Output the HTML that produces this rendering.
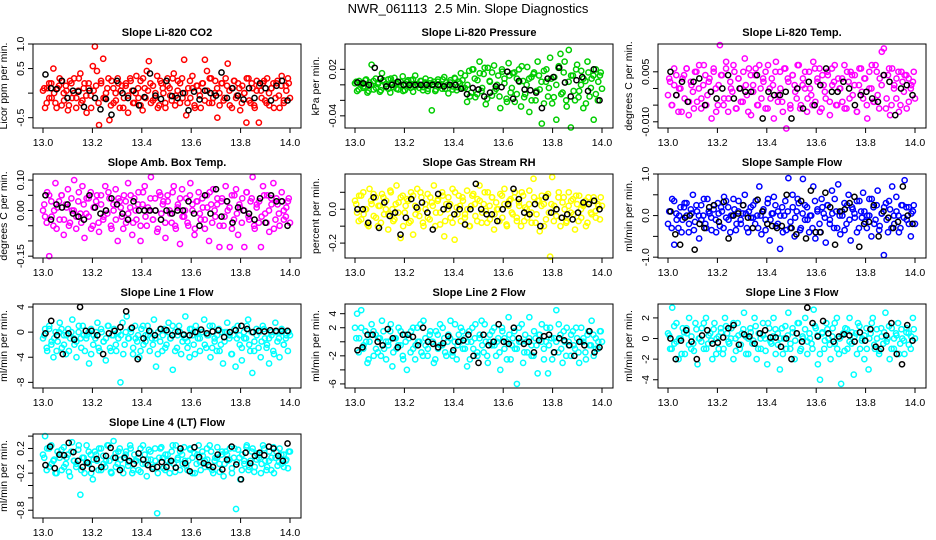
<!DOCTYPE html>
<html><head><meta charset="utf-8"><style>
html,body{margin:0;padding:0;background:#fff}
svg{display:block;font-family:"Liberation Sans",Arial,sans-serif}
</style></head><body>
<svg id="chart" width="936" height="540" viewBox="0 0 936 540" xmlns="http://www.w3.org/2000/svg">
<rect width="936" height="540" fill="#fff"/>
<text x="468" y="13" font-size="13" text-anchor="middle">NWR_061113&#160; 2.5 Min. Slope Diagnostics</text>
</svg>
<script>
const xTicks=[13.0,13.2,13.4,13.6,13.8,14.0];
const co2=[0.05,-0.3,0.1,-0.1,0.2,0.5,-0.2,0.1,0.3,-0.25,0.0,0.15,-0.35,0.25,-0.1,0.3,-0.3,0.05,0.4,-0.15,0.2,-0.4,0.1,-0.05,0.55,0.95,0.45,-0.65,0.2,0.7,-0.1,0.1,-0.55,0.25,-0.2,0.0,0.3,-0.3,0.15,-0.1,0.2,-0.4,0.3,0.05,-0.2,0.35,-0.1,0.25,-0.35,0.1,0.45,0.65,-0.2,0.15,-0.1,0.35,-0.25,0.2,0.0,-0.3,0.3,0.1,-0.15,0.4,-0.05,0.25,-0.2,0.3,0.68,-0.45,0.1,-0.1,0.35,-0.25,0.15,0.05,-0.3,0.2,0.68,0.45,-0.2,0.3,-0.1,0.25,-0.5,0.0,0.2,-0.15,0.3,0.6,-0.25,0.1,0.25,-0.1,0.2,-0.35,0.15,0.0,-0.6,0.3,-0.2,0.1,-0.3,0.25,-0.6,0.05,0.2,-0.15,0.3,-0.25,0.1,0.2,-0.1,0.25,-0.3,0.35,-0.2,0.15,0.3,-0.1];
const co2Core=[0.1,-0.2,0.2,-0.1,0.0,-0.3,0.15,0.25,-0.15,0.05,-0.25,0.2,0.0,-0.1,0.3,-0.2,0.1,-0.05,0.2,-0.3,0.05,0.15,-0.2,0.25,-0.1,0.0,0.3,-0.25,0.1,-0.15,0.2,0.05,-0.3,0.15,-0.05,0.25,-0.2,0.0,0.1,-0.25,0.3,-0.1,0.05,0.2,-0.15,0.0,-0.3,0.25,0.1,-0.2,0.15,-0.05,0.3,-0.25,0.05,0.2,-0.1,0.0,-0.2,0.25,0.1,-0.3,0.15,-0.05,0.2,-0.15,0.05,0.3,-0.2,0.0,0.1,-0.25,0.2,-0.1,0.15,0.05,-0.3,0.25,-0.05,0.1,-0.2,0.0,0.3,-0.15,0.2,-0.25,0.05,0.15,-0.1,0.25,-0.2,0.0,0.1,-0.3,0.2,-0.05,0.15,-0.15,0.05,0.2];
const co2Black=[0.38,0.1,0.08,0.25,-0.1,0.05,0.03,-0.28,0.05,-0.1,-0.33,-0.12,-0.44,0.25,0.0,-0.1,0.05,-0.25,-0.08,0.4,-0.05,-0.12,0.25,-0.06,-0.1,0.0,-0.35,0.03,-0.13,0.05,0.0,-0.05,0.42,-0.1,0.1,-0.05,-0.13,0.1,-0.1,0.2,0.1,-0.15,0.15,0.25,-0.15];
const pres=[0.002,-0.008,0.005,0.0,-0.004,0.006,-0.01,0.003,0.026,-0.006,0.008,0.001,-0.009,0.015,0.004,-0.003,0.007,-0.01,0.002,0.009,-0.005,0.003,0.0,0.011,-0.007,0.004,-0.002,0.006,-0.009,0.012,0.001,-0.004,0.005,-0.003,0.008,-0.008,0.002,-0.033,0.004,-0.006,0.007,0.0,-0.005,0.01,0.003,-0.011,0.006,-0.002,0.009,-0.007,0.004,0.015,-0.004,0.012,-0.022,0.018,-0.01,0.02,-0.016,0.006,0.03,-0.008,0.014,-0.025,0.022,0.004,-0.014,0.025,-0.005,0.012,-0.03,0.017,0.002,-0.018,0.028,-0.01,0.015,-0.022,0.008,0.02,-0.028,0.005,-0.012,0.023,-0.035,0.01,0.014,-0.02,0.03,-0.006,-0.05,0.018,0.004,-0.015,0.035,-0.024,0.01,-0.045,0.022,0.04,-0.01,0.03,-0.028,0.045,-0.055,0.012,-0.02,0.026,-0.008,0.018,-0.03,0.005,0.03,-0.015,0.008,-0.045,0.02,-0.02,0.012,-0.005];
const presCore=[0.004,-0.006,0.002,-0.002,0.007,-0.008,0.0,0.005,-0.004,0.003,-0.007,0.006,0.001,-0.005,0.008,-0.003,0.002,-0.006,0.004,-0.008,0.001,0.006,-0.004,0.007,-0.002,0.0,0.005,-0.007,0.003,-0.005,0.006,0.001,-0.008,0.004,-0.001,0.007,-0.005,0.0,0.003,-0.006,0.008,-0.003,0.002,0.006,-0.004,0.0,-0.015,0.02,0.008,-0.012,0.015,-0.004,0.022,-0.018,0.005,0.016,-0.008,0.0,-0.015,0.02,0.008,-0.022,0.012,-0.004,0.016,-0.012,0.004,0.024,-0.016,0.0,0.008,-0.02,0.016,-0.008,0.012,0.004,-0.024,0.02,-0.004,0.008,-0.016,0.0,0.024,-0.012,0.016,-0.02,0.004,0.012,-0.008,0.02,-0.016,0.0,0.008,-0.024,0.016,-0.004,0.012,-0.012,0.004,0.016];
const presBlack=[0.003,0.002,0.0,0.022,0.008,-0.002,0.0,0.004,0.0,0.0,0.0,0.0,0.0,0.0,0.0,-0.002,0.0,0.0,-0.005,-0.012,-0.004,-0.006,-0.015,-0.01,-0.002,-0.003,0.017,-0.018,0.005,-0.006,-0.007,-0.01,-0.03,0.008,0.01,0.022,0.003,-0.015,0.006,0.01,-0.008,0.02,-0.02];
const temp=[-0.002,0.002,-0.005,0.001,0.004,-0.007,0.0,0.003,-0.003,0.006,-0.008,0.002,-0.001,0.005,-0.004,0.007,-0.006,0.001,0.004,-0.002,0.003,-0.009,0.006,0.0,-0.005,0.013,0.004,-0.003,0.008,-0.007,0.002,-0.001,0.005,-0.006,0.003,0.0,-0.004,0.009,-0.002,0.006,-0.008,0.001,0.004,-0.005,0.007,-0.003,0.002,0.005,-0.006,0.0,0.003,-0.009,0.008,-0.002,0.005,-0.004,0.006,-0.012,0.002,-0.006,0.004,0.001,-0.003,0.007,-0.005,0.003,0.0,-0.007,0.005,-0.002,0.008,-0.004,0.002,0.006,-0.006,0.001,-0.003,0.004,-0.008,0.006,0.002,-0.005,0.003,0.0,-0.004,0.007,-0.006,0.002,0.005,-0.002,0.004,-0.007,0.001,0.006,-0.003,0.003,-0.009,0.005,0.0,-0.004,0.007,-0.002,0.003,0.011,0.012,-0.006,0.004,-0.008,0.006,0.001,-0.003,0.005,-0.005,0.002,0.004,-0.006,0.003,0.0,0.002,-0.003];
const tempCore=[0.003,-0.005,0.006,-0.002,0.0,-0.007,0.004,0.006,-0.004,0.001,-0.006,0.005,0.0,-0.003,0.007,-0.005,0.002,-0.001,0.005,-0.007,0.001,0.004,-0.005,0.006,-0.003,0.0,0.007,-0.006,0.003,-0.004,0.005,0.001,-0.007,0.004,-0.001,0.006,-0.005,0.0,0.003,-0.006,0.007,-0.003,0.001,0.005,-0.004,0.0,-0.007,0.006,0.003,-0.005,0.004,-0.001,0.007,-0.006,0.001,0.005,-0.003,0.0,-0.005,0.006,0.003,-0.007,0.004,-0.001,0.005,-0.004,0.001,0.007,-0.005,0.0,0.003,-0.006,0.005,-0.003,0.004,0.001,-0.007,0.006,-0.001,0.003,-0.005,0.0,0.007,-0.004,0.005,-0.006,0.001,0.004,-0.003,0.006,-0.005,0.0,0.003,-0.007,0.005,-0.001,0.004,-0.004,0.001,0.005];
const tempBlack=[0.005,-0.002,0.002,-0.004,0.002,0.003,-0.005,-0.001,-0.003,0.0,0.004,-0.003,0.0,-0.001,-0.001,0.004,-0.009,-0.001,-0.002,-0.002,-0.001,-0.009,0.0,-0.006,0.002,-0.005,0.001,0.006,-0.001,-0.001,0.002,0.0,-0.005,-0.002,-0.001,-0.003,-0.004,0.004,0.002,-0.008,0.0,0.001,-0.002];
const amb=[0.0,-0.02,0.06,-0.15,0.03,-0.05,0.09,0.01,-0.03,0.05,-0.08,0.02,0.07,-0.04,0.0,0.1,-0.06,0.03,-0.01,0.08,-0.09,0.04,-0.02,0.06,-0.05,0.01,0.05,-0.07,0.02,-0.03,0.08,-0.01,0.04,-0.06,0.0,0.07,-0.1,0.03,-0.02,0.05,-0.04,0.09,0.01,-0.08,0.04,-0.03,0.06,-0.1,0.02,0.08,-0.05,0.0,0.11,-0.03,0.04,-0.07,0.06,-0.01,0.03,-0.09,0.05,0.0,-0.04,0.08,-0.06,0.02,-0.11,0.07,-0.02,0.04,-0.05,0.09,0.0,-0.08,0.03,0.06,-0.03,0.01,-0.06,0.05,-0.1,0.02,0.07,-0.02,0.04,-0.12,0.03,-0.05,0.08,0.0,-0.12,0.05,-0.03,0.07,-0.08,0.01,0.04,-0.12,0.06,-0.02,0.03,0.11,-0.06,0.02,-0.04,-0.12,0.08,-0.01,0.05,-0.07,0.04,0.09,-0.03,0.02,-0.05,0.06,0.0,-0.02,0.03,-0.04];
const ambCore=[0.02,-0.04,0.05,-0.02,0.0,-0.06,0.03,0.05,-0.03,0.01,-0.05,0.04,0.0,-0.02,0.06,-0.04,0.02,-0.01,0.04,-0.06,0.01,0.03,-0.04,0.05,-0.02,0.0,0.06,-0.05,0.02,-0.03,0.04,0.01,-0.06,0.03,-0.01,0.05,-0.04,0.0,0.02,-0.05,0.06,-0.02,0.01,0.04,-0.03,0.0,-0.06,0.05,0.02,-0.04,0.03,-0.01,0.06,-0.05,0.01,0.04,-0.02,0.0,-0.04,0.05,0.02,-0.06,0.03,-0.01,0.04,-0.03,0.01,0.06,-0.04,0.0,0.02,-0.05,0.04,-0.02,0.03,0.01,-0.06,0.05,-0.01,0.02,-0.04,0.0,0.06,-0.03,0.04,-0.05,0.01,0.03,-0.02,0.05,-0.04,0.0,0.02,-0.06,0.04,-0.01,0.03,-0.03,0.01,0.04];
const ambBlack=[0.05,-0.03,0.02,0.01,0.02,-0.01,-0.02,-0.03,0.05,0.01,-0.01,0.0,0.04,0.02,-0.01,-0.03,0.03,0.0,0.0,0.0,0.0,-0.03,0.0,-0.01,0.0,0.0,0.03,-0.01,-0.05,0.05,-0.01,0.07,-0.02,0.03,-0.04,0.01,0.0,-0.01,-0.03,0.04,-0.04,0.05,0.03,0.03,-0.05];
const rh=[0.05,-0.02,0.08,-0.06,0.1,0.0,-0.09,0.12,0.03,-0.04,0.07,-0.1,0.02,0.09,-0.03,0.05,-0.12,0.11,0.0,-0.06,0.14,0.04,-0.17,0.08,-0.02,0.06,-0.08,0.1,-0.15,0.02,0.12,-0.04,0.07,-0.1,0.0,0.09,-0.06,0.04,0.14,-0.02,0.06,-0.09,0.1,-0.16,0.03,0.07,-0.05,0.12,-0.18,0.01,0.08,-0.07,0.05,-0.03,0.11,-0.1,0.02,0.09,-0.04,0.06,0.14,-0.08,0.03,-0.01,0.1,-0.06,0.07,-0.12,0.04,0.0,0.09,-0.05,0.12,-0.09,0.02,0.06,-0.03,0.1,-0.07,0.04,-0.1,0.08,0.01,-0.05,0.11,-0.02,0.18,-0.08,0.05,-0.13,0.08,0.03,-0.06,0.09,-0.28,0.19,0.02,-0.04,0.07,-0.1,0.04,0.0,-0.07,0.1,-0.02,0.06,-0.12,0.03,0.08,-0.05,0.02,0.05,-0.08,0.04,-0.03,0.07,-0.01,0.03,-0.06,0.02];
const rhCore=[0.03,-0.07,0.08,-0.03,0.0,-0.1,0.05,0.09,-0.05,0.02,-0.08,0.07,0.0,-0.03,0.1,-0.07,0.03,-0.02,0.07,-0.1,0.02,0.05,-0.07,0.08,-0.03,0.0,0.1,-0.08,0.03,-0.05,0.07,0.02,-0.1,0.05,-0.02,0.08,-0.07,0.0,0.03,-0.08,0.1,-0.03,0.02,0.07,-0.05,0.0,-0.1,0.08,0.03,-0.07,0.05,-0.02,0.1,-0.08,0.02,0.07,-0.03,0.0,-0.07,0.08,0.03,-0.1,0.05,-0.02,0.07,-0.05,0.02,0.1,-0.07,0.0,0.03,-0.08,0.07,-0.03,0.05,0.02,-0.1,0.08,-0.02,0.03,-0.07,0.0,0.1,-0.05,0.07,-0.08,0.02,0.05,-0.03,0.08,-0.07,0.0,0.03,-0.1,0.07,-0.02,0.05,-0.05,0.02,0.07];
const rhBlack=[0.0,0.0,-0.08,0.07,-0.11,0.04,-0.04,-0.02,-0.15,-0.05,0.06,0.01,0.04,-0.02,-0.12,0.09,0.0,0.02,-0.03,0.0,-0.09,0.0,0.15,0.0,-0.03,-0.03,-0.07,0.0,0.03,0.12,0.06,-0.02,-0.03,0.03,-0.1,0.07,-0.02,0.0,-0.05,-0.03,-0.06,-0.02,0.04,0.03,0.05,0.0];
const sflow=[-0.2,0.1,0.4,-0.7,0.05,-0.3,0.2,-0.1,0.3,0.0,-0.4,0.15,0.5,-0.15,0.1,-0.55,0.25,0.0,-0.2,0.4,0.05,-0.35,0.15,-0.1,0.3,-0.25,0.1,0.45,-0.05,0.2,-0.4,0.0,0.15,-0.2,0.35,-0.1,0.05,0.5,-0.3,0.1,-0.05,0.25,-0.2,0.0,0.7,-0.45,0.15,-0.1,0.3,-0.6,0.05,0.45,-0.25,0.1,-0.8,0.2,0.0,-0.35,0.9,-0.15,0.5,-0.5,0.1,0.3,-0.3,0.88,-0.1,0.2,-0.4,0.0,0.7,-0.55,0.15,-0.2,0.4,0.05,-0.65,0.25,-0.1,0.6,-0.3,0.1,0.75,-0.45,0.0,0.3,-0.2,0.5,-0.6,0.15,-0.05,0.35,-0.3,0.1,0.55,-0.15,0.0,0.4,-0.5,0.2,-0.1,0.6,-0.25,0.05,-0.95,0.3,-0.4,0.15,0.7,-0.2,0.45,0.0,-0.3,0.25,0.85,-0.1,0.2,-0.5,0.1,-0.2];
const sflowCore=[0.1,-0.3,0.35,-0.1,0.0,-0.4,0.2,0.3,-0.2,0.05,-0.35,0.25,0.0,-0.1,0.4,-0.3,0.1,-0.05,0.25,-0.4,0.05,0.2,-0.3,0.35,-0.1,0.0,0.4,-0.35,0.1,-0.2,0.25,0.05,-0.4,0.2,-0.05,0.35,-0.3,0.0,0.1,-0.35,0.4,-0.1,0.05,0.25,-0.2,0.0,-0.4,0.35,0.1,-0.3,0.2,-0.05,0.4,-0.35,0.05,0.25,-0.1,0.0,-0.3,0.35,0.1,-0.4,0.2,-0.05,0.25,-0.2,0.05,0.4,-0.3,0.0,0.1,-0.35,0.25,-0.1,0.2,0.05,-0.4,0.35,-0.05,0.1,-0.3,0.0,0.4,-0.2,0.25,-0.35,0.05,0.2,-0.1,0.35,-0.3,0.0,0.1,-0.4,0.25,-0.05,0.2,-0.2,0.05,0.25];
const sflowBlack=[0.1,-0.45,-0.7,-0.05,0.0,-0.82,-0.2,-0.3,0.2,0.25,-0.15,0.33,-0.55,0.0,0.05,0.25,-0.05,-0.3,0.38,0.1,-0.2,-0.25,-0.3,-0.25,0.5,-0.3,-0.45,0.35,-0.55,0.6,-0.4,-0.4,0.55,0.2,-0.7,0.1,0.15,0.3,0.45,-0.75,-0.2,-0.15,0.25,-0.5,0.1,-0.05,-0.3,-0.15,0.7,0.0,-0.2];
const line1=[-1,0.5,-3,1,-2,-4,0,-1.5,1.5,-2.5,-0.5,-3.5,0.5,-1,2,-2,-4,0,-1,1,-3,-0.5,-5,0.5,-2,-1,1.5,-3,0,-1.5,-4.5,1,-2.5,-0.5,0.5,-3,-1,-8,1.5,-2,2.5,-1,0,-3.5,1,-1.5,-4,0.5,-2,-0.5,1,-3,-1,2,-5.5,0,-1.5,-3,0.5,-2,1.5,-1,-6,0,-2.5,1,-3.5,-0.5,2.5,-1.5,-4,0.5,-2,1,-1,-3,0,2,-2.5,-0.5,-4,1,-1.5,-3,0.5,-2,-5,0,1.5,-1,-3.5,-0.5,-5.5,1,-2,-4.5,0,-1,2,-3,-6.5,-1.5,0.5,-2.5,-4,1,-1,-2,-5,0,-3,1.5,-1.5,-4,0.5,-2,-1,-3,-0.5];
const line1Core=[-0.5,-2.5,0.5,-1.5,-1,-3,0,0.5,-2,-0.5,-3,0,-1,-1.5,1,-2.5,-0.5,-1,0,-3.5,-0.5,0,-2.5,0.5,-1.5,-1,1,-3,-0.5,-2,0,-0.5,-3.5,0,-1,0.5,-2.5,-1,-0.5,-3,1,-1.5,-0.5,0,-2,-1,-3.5,0.5,-0.5,-2.5,0,-1,1,-3,-0.5,0,-1.5,-1,-2.5,0.5,-0.5,-3.5,0,-1,0,-2,-0.5,1,-2.5,-1,-0.5,-3,0,-1.5,0,-0.5,-3.5,0.5,-1,-0.5,-2.5,-1,1,-2,0,-3,-0.5,0,-1.5,0.5,-2.5,-1,-0.5,-3.5,0,-1,0,-2,-0.5,0];
const line1Black=[-0.2,1.8,-0.5,-3.5,-0.2,-1.2,4,0.2,0.2,-0.5,-3.5,-0.2,0.2,0.8,3.3,0.7,-4.3,-1,0.2,-0.5,0.5,0.3,-0.5,0.1,-0.4,-0.5,0,0.4,-0.2,0.1,0.3,-0.8,0,0.3,1,0.5,0,0.2,0.1,0.3,0.2,0.2,0.2];
const line2=[2,4,0.5,4.5,-1,1.5,-3,0,2.5,-2,1,-1.5,0.5,3,-1,-2.5,0,1.5,-3.5,0.5,-1,2,-0.5,-2,1,-4,0.5,1.5,-1,-2.5,2,0,-1.5,3,-0.5,-2,1,0,-3,1.5,-1,2.5,-0.5,0.5,-2,1,3,-1.5,0,-2.5,1,2,-1,0.5,-3.5,1.5,0,-1,2.5,-2,0.5,3,-1.5,0,-3,1,-0.5,2,-2,0.5,-4,1.5,-1,0,3.5,-2.5,0.5,-1,-6,2,0,-3,1,-1.5,3.5,-0.5,-2,0.5,-4.5,1,2.5,-1,0,-4.5,2,-2.5,0.5,4.5,-1.5,1,-3,0,2,-0.5,-2,1.5,-1,0.5,-3,2,0,-1.5,1,-0.5,3,-2,0.5,-1,1.5,0];
const line2Core=[0.5,-1.5,2,-0.5,0,-2.5,1,1.5,-1,0.5,-2,1.5,0,-0.5,2.5,-1.5,0.5,-0.5,1.5,-2.5,0,1,-1.5,2,-0.5,0,2.5,-2,0.5,-1,1.5,0,-2.5,1,-0.5,2,-1.5,0,0.5,-2,2.5,-0.5,0,1.5,-1,0,-2.5,2,0.5,-1.5,1,-0.5,2.5,-2,0,1.5,-0.5,0,-1.5,2,0.5,-2.5,1,-0.5,1.5,-1,0,2.5,-1.5,0,0.5,-2,1.5,-0.5,1,0,-2.5,2,-0.5,0.5,-1.5,0,2.5,-1,1.5,-2,0,1,-0.5,2,-1.5,0,0.5,-2.5,1.5,-0.5,1,-1,0,1.5];
const line2Black=[-1.2,-0.8,1,1,0,-0.5,1.8,0.5,-0.8,1,1,0.7,-0.5,2,0,-0.3,-0.8,-0.2,0.8,-1.2,0,0.2,1,-2,-3,1,-0.5,0,2.5,0,-0.3,2,0.5,-0.3,0,-1.5,0.2,0.8,1,-1.5,0.5,0.2,-0.5,-2,0,-0.5,1.5,-1.5,-0.8];
const line3=[0.5,-1,3,-0.5,1.5,-2,0,1,-1.5,0.5,2,-1,-0.5,1.5,-2.5,0,1,-1,2,-0.5,0.5,-2,1.5,0,-1,1,-1.5,2,0.5,-0.5,1,-2,0,1.5,-1,0.5,2.5,-1.5,0,1,-0.5,2,-2,0.5,-1,1.5,0,-2.5,1,-0.5,2,-1.5,0.5,-3,1,0,-1,2.5,-0.5,1,-2,0.5,1.5,-1,0,2,-1.5,0.5,-0.5,2.8,1,-2.5,-4,0.5,-1,1.5,0,-2,1,-0.5,2,-1.5,-4.4,0.5,1,-1,2,-0.5,-3.5,0.5,1.5,-1,0,-2,1,-3,0.5,2,-1,0,-1.5,1,-0.5,2.5,0,-2,1,-1,0.5,1.5,-0.5,0,-1.5,1,0.5,-1,2,0];
const line3Core=[0.3,-1,1.2,-0.3,0,-1.5,0.6,1,-0.6,0.2,-1.2,0.9,0,-0.3,1.5,-1,0.3,-0.2,0.9,-1.5,0.2,0.6,-1,1.2,-0.3,0,1.5,-1.2,0.3,-0.6,0.9,0.2,-1.5,0.6,-0.2,1.2,-1,0,0.3,-1.2,1.5,-0.3,0.2,0.9,-0.6,0,-1.5,1.2,0.3,-1,0.6,-0.2,1.5,-1.2,0.2,0.9,-0.3,0,-1,1.2,0.3,-1.5,0.6,-0.2,0.9,-0.6,0.2,1.5,-1,0,0.3,-1.2,0.9,-0.3,0.6,0.2,-1.5,1.2,-0.2,0.3,-1,0,1.5,-0.6,0.9,-1.2,0.2,0.6,-0.3,1.2,-1,0,0.3,-1.5,0.9,-0.2,0.6,-0.6,0.2,0.9];
const line3Black=[0,-2,-0.2,0.8,-0.3,-2,0.3,0.8,-0.5,-0.4,0.1,1,1.3,-0.6,0.4,0.2,-0.5,0.5,0.8,0.1,0.1,-0.8,0,-2,0.5,-0.3,3,1.5,0.2,1.7,0.5,-0.3,0.2,0.4,0.3,-0.3,0.6,-0.2,0.9,-0.8,-1,0.3,1.5,-1.5,-2.5,1.3,-0.2];
const line4=[0.1,0.4,0.2,-0.1,0.25,0.0,-0.2,0.15,0.05,-0.15,0.22,-0.05,0.1,-0.25,0.3,0.0,-0.1,0.18,-0.55,0.05,-0.2,0.25,-0.05,0.1,-0.3,0.15,0.0,0.2,-0.15,0.08,-0.1,0.25,0.0,-0.2,0.32,0.12,-0.05,0.2,-0.12,0.05,0.15,-0.08,0.25,-0.2,0.1,0.0,-0.15,0.2,-0.05,0.1,-0.25,0.18,0.02,-0.1,0.2,-0.85,0.05,0.22,-0.12,0.1,0.0,-0.2,0.15,-0.05,0.25,0.05,-0.15,0.1,0.22,-0.08,0.0,0.18,-0.2,0.12,-0.05,0.25,-0.15,0.08,0.0,0.2,-0.1,0.15,-0.2,0.05,0.22,-0.05,0.1,-0.25,0.15,0.0,0.2,-0.12,0.05,-0.78,0.18,-0.3,0.1,-0.05,0.22,-0.15,0.0,0.2,-0.1,0.12,0.05,-0.2,0.25,0.0,-0.1,0.15,-0.15,0.22,0.05,-0.08,0.2,-0.05,0.1,0.0,-0.12,0.15];
const line4Core=[0.05,-0.15,0.2,-0.05,0.02,-0.2,0.1,0.18,-0.1,0.05,-0.18,0.15,0.0,-0.05,0.25,-0.15,0.05,-0.02,0.15,-0.2,0.02,0.1,-0.15,0.2,-0.05,0.0,0.25,-0.18,0.05,-0.1,0.15,0.02,-0.2,0.1,-0.02,0.2,-0.15,0.0,0.05,-0.18,0.25,-0.05,0.02,0.15,-0.1,0.0,-0.2,0.2,0.05,-0.15,0.1,-0.02,0.25,-0.18,0.02,0.15,-0.05,0.0,-0.15,0.2,0.05,-0.2,0.1,-0.02,0.15,-0.1,0.02,0.25,-0.15,0.0,0.05,-0.18,0.15,-0.05,0.1,0.02,-0.2,0.2,-0.02,0.05,-0.15,0.0,0.25,-0.1,0.15,-0.18,0.02,0.1,-0.05,0.2,-0.15,0.0,0.05,-0.2,0.15,-0.02,0.1,-0.1,0.02,0.15];
const line4Black=[-0.07,0.23,-0.12,0.1,0.09,0.29,0.14,0.0,-0.1,-0.03,-0.13,0.03,-0.1,0.08,0.21,0.05,-0.15,0.05,0.0,-0.05,0.12,0.02,-0.07,-0.13,-0.1,-0.02,-0.1,0.0,-0.11,0.2,-0.04,-0.17,0.22,0.06,-0.04,-0.07,-0.1,0.1,-0.14,0.02,0.23,-0.06,-0.3,0.13,-0.04,0.08,0.13,0.09,0.23,0.2,0.08,0.0,0.28];

const panels=[
 {name:'co2',title:'Slope Li-820 CO2',ylab:'Licor ppm per min.',col:0,row:0,ymin:-0.71,ymax:1.0,ticks:[-0.5,0,0.5,1.0],labels:['-0.5','','0.5','1.0'],color:'#ff0000',d:co2,d2:co2Core,b:co2Black},
 {name:'pressure',title:'Slope Li-820 Pressure',ylab:'kPa per min.',col:1,row:0,ymin:-0.0557,ymax:0.0527,ticks:[-0.04,-0.02,0,0.02],labels:['-0.04','','','0.02'],color:'#00cd00',d:pres,d2:presCore,b:presBlack},
 {name:'temp',title:'Slope Li-820 Temp.',ylab:'degrees C per min.',col:2,row:0,ymin:-0.01186,ymax:0.01334,ticks:[-0.01,-0.005,0,0.005],labels:['-0.010','','','0.005'],color:'#ff00ff',d:temp,d2:tempCore,b:tempBlack},
 {name:'amb-box-temp',title:'Slope Amb. Box Temp.',ylab:'degrees C per min.',col:0,row:1,ymin:-0.156,ymax:0.12,ticks:[-0.15,-0.1,-0.05,0,0.05,0.1],labels:['-0.15','','','0.00','','0.10'],color:'#ff00ff',d:amb,d2:ambCore,b:ambBlack},
 {name:'gas-stream-rh',title:'Slope Gas Stream RH',ylab:'percent per min.',col:1,row:1,ymin:-0.288,ymax:0.208,ticks:[-0.2,-0.1,0,0.1],labels:['-0.2','','0.0',''],color:'#ffff00',d:rh,d2:rhCore,b:rhBlack},
 {name:'sample-flow',title:'Slope Sample Flow',ylab:'ml/min per min.',col:2,row:1,ymin:-1.02,ymax:1.0,ticks:[-1,-0.5,0,0.5,1],labels:['-1.0','','0.0','','1.0'],color:'#0000ff',d:sflow,d2:sflowCore,b:sflowBlack},
 {name:'line1-flow',title:'Slope Line 1 Flow',ylab:'ml/min per min.',col:0,row:2,ymin:-8.9,ymax:4.48,ticks:[-8,-4,0,4],labels:['-8','-4','0','4'],color:'#00ffff',d:line1,d2:line1Core,b:line1Black},
 {name:'line2-flow',title:'Slope Line 2 Flow',ylab:'ml/min per min.',col:1,row:2,ymin:-6.58,ymax:5.38,ticks:[-6,-4,-2,0,2,4],labels:['-6','','-2','','2','4'],color:'#00ffff',d:line2,d2:line2Core,b:line2Black},
 {name:'line3-flow',title:'Slope Line 3 Flow',ylab:'ml/min per min.',col:2,row:2,ymin:-4.8,ymax:3.35,ticks:[-4,-2,0,2],labels:['-4','-2','0','2'],color:'#00ffff',d:line3,d2:line3Core,b:line3Black},
 {name:'line4-flow',title:'Slope Line 4 (LT) Flow',ylab:'ml/min per min.',col:0,row:3,ymin:-0.926,ymax:0.434,ticks:[-0.8,-0.6,-0.4,-0.2,0,0.2,0.4],labels:['-0.8','','','-0.2','','0.2',''],color:'#00ffff',d:line4,d2:line4Core,b:line4Black}
];
const svg=document.getElementById('chart');
const NS='http://www.w3.org/2000/svg';
function mk(tag,attrs,parent){const e=document.createElementNS(NS,tag);for(const k in attrs)e.setAttribute(k,attrs[k]);parent.appendChild(e);return e;}
const colLeft=[33,345,658],rowTop=[44,174,304,434],W=268,H=84;
panels.forEach(p=>{
 const L=colLeft[p.col],T=rowTop[p.row],B=T+H;
 const g=mk('g',{},svg);
 
 
 const xs=v=>L+10+(v-13)*(W-21);
 const ys=v=>B-(v-p.ymin)/(p.ymax-p.ymin)*H;
 const t=mk('text',{x:L+W/2,y:T-8,'font-size':11,'font-weight':'bold','text-anchor':'middle'},g);
 t.textContent=p.title;
 
 
 const pts=mk('g',{fill:'none','stroke-width':1.5},g);
 
 
 p.d.forEach((v,i)=>{const c=mk('circle',{cx:xs(13+i/(p.d.length-1)),cy:ys(v),r:2.6,stroke:p.color},pts);
  
  });
 p.d2.forEach((v,i)=>{const c=mk('circle',{cx:xs(13.005+0.99*i/(p.d2.length-1)),cy:ys(v),r:2.6,stroke:p.color},pts);
  
  });
 p.b.forEach((v,i)=>{const c=mk('circle',{cx:xs(13.01+0.98*i/(p.b.length-1)),cy:ys(v),r:2.6,stroke:'#000'},pts);
  
  });
 const box=mk('rect',{x:L,y:T,width:W,height:H,fill:'none',stroke:'#000','stroke-width':1},g);
 
 
 xTicks.forEach(v=>{mk('line',{x1:xs(v),x2:xs(v),y1:B,y2:B+5,stroke:'#000'},g);
  const tl=mk('text',{x:xs(v),y:B+18,'font-size':10.5,'text-anchor':'middle'},g);tl.textContent=v.toFixed(1);
  
  });
 p.ticks.forEach((v,i)=>{const y=ys(v);mk('line',{x1:L-5,x2:L,y1:y,y2:y,stroke:'#000'},g);
  if(p.labels[i]){const tl=mk('text',{x:L-9,y:y,'font-size':10.5,'text-anchor':'middle',transform:`rotate(-90 ${L-9} ${y})`},g);tl.textContent=p.labels[i];
  
  }});
 const yl=mk('text',{x:L-26,y:T+H/2,'font-size':10.5,'text-anchor':'middle',transform:`rotate(-90 ${L-26} ${T+H/2})`},g);
 yl.textContent=p.ylab;
 
 
});
</script>
</body></html>
